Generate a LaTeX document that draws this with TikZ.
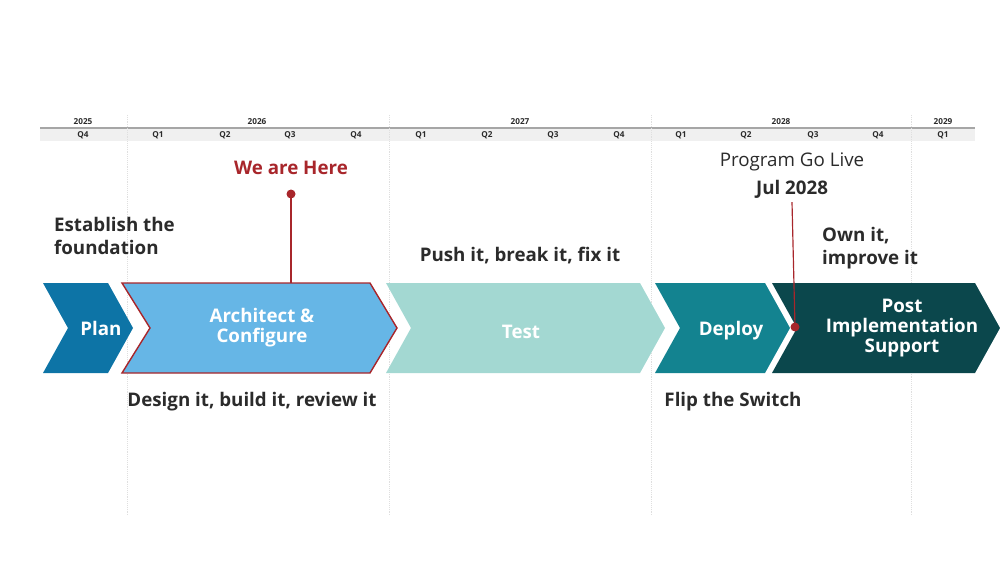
\documentclass[tikz,border=0pt]{standalone}
\usepackage{fontspec}
\setmainfont{Open Sans}
\definecolor{planblue}{HTML}{0D74A6}
\definecolor{archblue}{HTML}{66B6E6}
\definecolor{testteal}{HTML}{A3D8D2}
\definecolor{deployteal}{HTML}{138390}
\definecolor{postteal}{HTML}{0B474C}
\definecolor{herered}{HTML}{A8262B}
\definecolor{txtgray}{HTML}{2B2B2B}
\tikzset{
  chev/.style={draw=none},
  phase/.style={text=white, font=\fontsize{16}{17}\selectfont\bfseries, align=center},
  note/.style={text=txtgray, font=\fontsize{16}{20}\selectfont\bfseries, align=left},
  yr/.style={font=\fontsize{7}{8}\selectfont\bfseries, text=txtgray},
  qt/.style={font=\fontsize{7}{8}\selectfont\bfseries, text=txtgray},
  divider/.style={gray!25, densely dotted, line width=0.6pt}
}
\begin{document}
\begin{tikzpicture}[x=0.03cm, y=-0.03cm]
	\useasboundingbox (0,0) rectangle (1000,563);
	
	%timeline header
	\fill[gray!12] (40,129) rectangle (975,141);
	\draw[gray!70, line width=1.6pt] (40,128) -- (975,128);
	\foreach \x in {127,389,651,911} \draw[divider] (\x,115) -- (\x,515);
	\foreach \x/\t in {83/2025,257/2026,520/2027,781/2028,943/2029}
		\node[yr] at (\x,121.5) {\t};
	\foreach \x/\t in {83/Q4,158/Q1,225/Q2,290/Q3,356/Q4,421/Q1,487/Q2,553/Q3,619/Q4,681/Q1,746/Q2,813/Q3,878/Q4,943/Q1}
		\node[qt] at (\x,135) {\t};
	
	%phase chevrons
	\fill[planblue] (43,283) -- (108,283) -- (133,328) -- (108,373) -- (43,373) -- (68,328) -- cycle;
	\fill[archblue, draw=herered, line width=1.2pt] (122,283) -- (370,283) -- (397,328) -- (370,373) -- (122,373) -- (150,328) -- cycle;
	\fill[testteal] (386,283) -- (640,283) -- (665,328) -- (640,373) -- (386,373) -- (411,328) -- cycle;
	\fill[deployteal] (655,283) -- (765,283) -- (790,328) -- (765,373) -- (655,373) -- (680,328) -- cycle;
	\fill[postteal] (772,283) -- (975,283) -- (1000,328) -- (975,373) -- (772,373) -- (797,328) -- cycle;
	
	\node[phase] (plan) at (101,328) {Plan};
	\node[phase] (arch) at (262,328) {Architect \&\\Configure};
	\node[phase] (test) at (521,332) {Test};
	\node[phase] (deploy) at (731,331) {Deploy};
	\node[phase] (post) at (902,328) {Post\\Implementation\\Support};
	
	%markers
	\node[text=herered, font=\fontsize{16}{18}\selectfont\bfseries] (here) at (291,168) {We are Here};
	\fill[herered] (291,194) circle (4.5);
	\coordinate (hereTop) at (291,194);
	\coordinate (hereBot) at (291,283);
	\draw[herered, line width=1pt] (hereTop) -- (hereBot);
	
	\node[text=txtgray, font=\fontsize{16}{18}\selectfont] (golive) at (792,162) {Program Go Live};
	\node[text=txtgray, font=\fontsize{16}{18}\selectfont\bfseries] (jul) at (792,189) {Jul 2028};
	\coordinate (liveDot) at (795,327);
	\draw[herered, line width=1pt] (jul.south) -- (liveDot);
	\fill[herered] (liveDot) circle (4.5);
	
	%descriptions
	\node[note, anchor=west] (found) at (50,236) {Establish the\\foundation};
	\node[note] (push) at (520,256) {Push it, break it, fix it};
	\node[note, anchor=west] (own) at (818,248) {Own it,\\improve it};
	\node[note] (design) at (252,402) {Design it, build it, review it};
	\node[note] (flip) at (733,402) {Flip the Switch};

\end{tikzpicture}
\end{document}
